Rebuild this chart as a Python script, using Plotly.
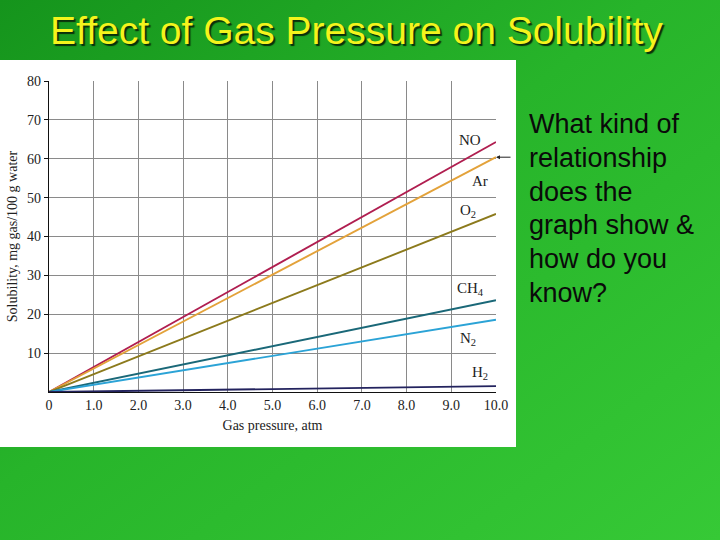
import base64
import plotly.graph_objects as go

# pressure in atm, solubility in mg gas / 100 g water
pressure = [0, 10]
gases = ["NO", "Ar", "O<sub>2</sub>", "CH<sub>4</sub>", "N<sub>2</sub>", "H<sub>2</sub>"]
solubility = {
    "NO": [0, 64.3],
    "Ar": [0, 60.4],
    "O<sub>2</sub>": [0, 45.8],
    "CH<sub>4</sub>": [0, 23.6],
    "N<sub>2</sub>": [0, 18.6],
    "H<sub>2</sub>": [0, 1.5],
}
colors = ["#b01e50", "#e3a23a", "#8c7a1c", "#1a6878", "#2ba3d6", "#23235e"]
# where the gas names sit (x, y)
label_x = [9.42, 9.64, 9.37, 9.44, 9.38, 9.64]
label_y = [64.9, 54.2, 46.5, 26.5, 13.6, 4.9]

x_ticks = [0, 1, 2, 3, 4, 5, 6, 7, 8, 9, 10]
x_tick_text = ["0", "1.0", "2.0", "3.0", "4.0", "5.0", "6.0", "7.0", "8.0", "9.0", "10.0"]
y_ticks = [10, 20, 30, 40, 50, 60, 70, 80]

question = ["What kind of", "relationship", "does the", "graph show &", "how do you", "know?"]

# green slide background as an svg gradient
svg = ('<svg xmlns="http://www.w3.org/2000/svg" width="720" height="540">'
       '<defs><linearGradient id="g" x1="0" y1="0" x2="1" y2="1">'
       '<stop offset="0" stop-color="#15941c"/>'
       '<stop offset="0.45" stop-color="#27b42a"/>'
       '<stop offset="1" stop-color="#36c936"/>'
       '</linearGradient></defs>'
       '<rect width="720" height="540" fill="url(#g)"/></svg>')
bg_src = "data:image/svg+xml;base64," + base64.b64encode(svg.encode()).decode()

serif = "Liberation Serif, Times New Roman, serif"
sans = "Liberation Sans, Arial, sans-serif"

fig = go.Figure()
for gas, col in zip(gases, colors):
    fig.add_trace(go.Scatter(x=pressure, y=solubility[gas], mode="lines",
                             line=dict(color=col, width=1.9), name=gas))

for gas, lx, ly in zip(gases, label_x, label_y):
    fig.add_annotation(x=lx, y=ly, text=gas, showarrow=False,
                       font=dict(family=serif, size=15, color="#222"))

# arrow pointing at Ar line end
fig.add_annotation(x=10, y=solubility["Ar"][1], text="", showarrow=True,
                   ax=16, ay=0, arrowhead=2, arrowsize=0.8, arrowwidth=1,
                   arrowcolor="#222")

fig.add_annotation(xref="paper", yref="paper", x=356 / 720, y=1 - 30 / 540,
                   xanchor="center", yanchor="middle",
                   text="Effect of Gas Pressure on Solubility", showarrow=False,
                   font=dict(family=sans, size=39, color="#f4f41c",
                             shadow="2px 2px 1px #0a300a"))

for i, line in enumerate(question):
    fig.add_annotation(xref="paper", yref="paper", x=527 / 720,
                       y=1 - (124 + i * 33.8) / 540,
                       xanchor="left", yanchor="middle",
                       text=line, showarrow=False,
                       font=dict(family=sans, size=27, color="#0a0a0a"))

fig.add_layout_image(source=bg_src, xref="paper", yref="paper", x=0, y=1,
                     sizex=1, sizey=1, sizing="stretch", layer="below")
fig.add_shape(type="rect", xref="paper", yref="paper", x0=0, x1=516 / 720,
              y0=1 - 447 / 540, y1=1 - 60 / 540, fillcolor="white",
              line=dict(width=0), layer="below")

fig.update_layout(
    width=720, height=540,
    margin=dict(l=0, r=0, t=0, b=0, autoexpand=False),
    paper_bgcolor="#27b42a",
    plot_bgcolor="rgba(0,0,0,0)",
    showlegend=False,
    xaxis=dict(domain=[49 / 720, 496 / 720], range=[0, 10], automargin=False,
               tickvals=x_ticks, ticktext=x_tick_text,
               showgrid=True, gridcolor="#8a8a8a", gridwidth=1,
               showline=True, linecolor="#111", linewidth=1.2,
               ticks="", zeroline=False,
               tickfont=dict(family=serif, size=14, color="#222"),
               title=dict(text="Gas pressure, atm", standoff=8,
                          font=dict(family=serif, size=14, color="#222"))),
    yaxis=dict(domain=[1 - 392 / 540, 1 - 81 / 540], range=[0, 80], automargin=False,
               tickvals=y_ticks,
               showgrid=True, gridcolor="#8a8a8a", gridwidth=1,
               showline=True, linecolor="#111", linewidth=1.2,
               ticks="outside", ticklen=4, tickcolor="#111", zeroline=False,
               tickfont=dict(family=serif, size=14, color="#222"),
               title=dict(text="Solubility, mg gas/100 g water", standoff=6,
                          font=dict(family=serif, size=14, color="#222"))),
)

fig.write_html("out.html", config={"displayModeBar": False},
               post_script="document.body.style.margin='0';")
